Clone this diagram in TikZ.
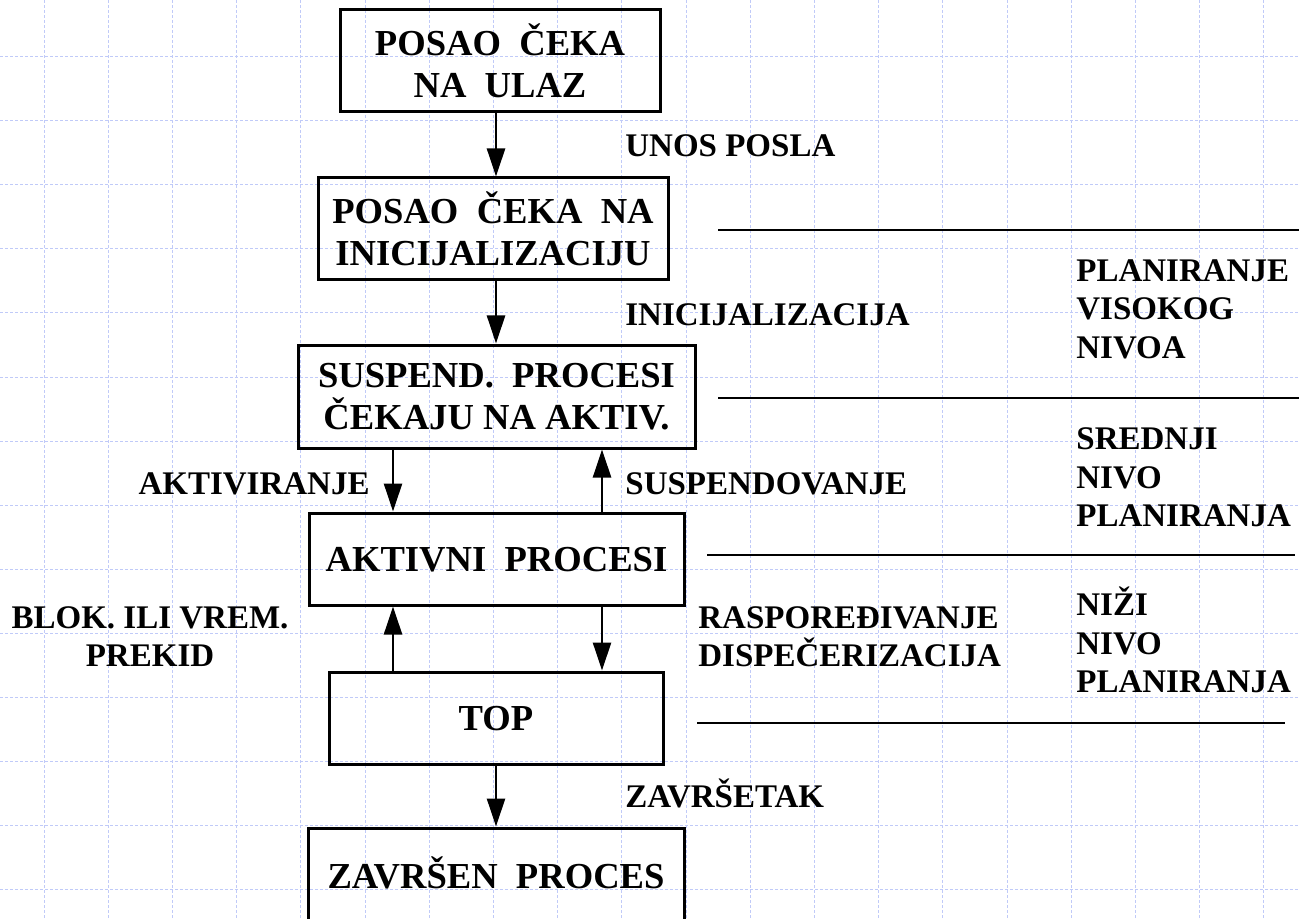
\documentclass[tikz,border=0pt]{standalone}
\usepackage{fontspec}
\setmainfont{Liberation Serif}
\usetikzlibrary{arrows.meta, positioning}

\definecolor{gridblue}{RGB}{192,202,248}

\begin{document}
\begin{tikzpicture}[
    % one unit = one pixel of the sheet, y grows downwards
    x=0.5pt,
    y=-0.5pt,
    >={Triangle[length=14pt, width=9pt]},
    box/.style={draw, line width=1.5pt, align=center, inner sep=0pt,
        font=\fontsize{18.3}{21}\selectfont\bfseries, text depth=0pt},
    lbl/.style={inner sep=0pt, font=\fontsize{16.5}{19.3}\selectfont\bfseries, text depth=0pt},
    flow/.style={->, line width=1.25pt},
    rule/.style={line width=1.4pt},
    gridline/.style={gridblue, line width=0.5pt, dash pattern=on 1.5pt off 1pt}
]
    % --- Sheet and grid ---
    \useasboundingbox (0,0) rectangle (1299,919);
    \foreach \gx in {0,...,19}
        \draw[gridline] ({44+64.2*\gx},0) -- ({44+64.2*\gx},919);
    \foreach \gy in {0,...,13}
        \draw[gridline] (0,{57+64*\gy}) -- (1299,{57+64*\gy});

    % --- States ---
    \node[box, minimum width=160pt, minimum height=51pt] (waitin) at (500,61)
        {POSAO\ \ ČEKA\\NA\ \ ULAZ};
    \node[box, minimum width=175pt, minimum height=51pt] (waitinit) at (493,229)
        {POSAO\ \ ČEKA\ \ NA\\INICIJALIZACIJU};
    \node[box, minimum width=198.5pt, minimum height=51.5pt] (suspended) at (496.5,396.5)
        {SUSPEND.\ \ PROCESI\\ČEKAJU NA AKTIV.};
    \node[box, minimum width=187.5pt, minimum height=46pt] (active) at (496.5,559)
        {AKTIVNI\ \ PROCESI};
    \node[box, minimum width=167pt, minimum height=46pt] (top) at (496,718) {TOP};
    \node[box, minimum width=188pt, minimum height=50pt, text depth=5pt] (done) at (496,878)
        {ZAVRŠEN\ \ PROCES};

    % --- Transitions ---
    \coordinate (spine) at (496,0);
    \coordinate (leftx) at (393,0);
    \coordinate (rightx) at (602,0);
    \draw[flow] (waitin.south -| spine) -- (waitinit.north -| spine);
    \draw[flow] (waitinit.south -| spine) -- (suspended.north -| spine);
    \draw[flow] (suspended.south -| leftx) -- (active.north -| leftx);
    \draw[flow] (active.north -| rightx) -- (suspended.south -| rightx);
    \draw[flow] (top.north -| leftx) -- (active.south -| leftx);
    \draw[flow] (active.south -| rightx) -- (top.north -| rightx);
    \draw[flow] (top.south -| spine) -- (done.north -| spine);

    % --- Transition labels ---
    \node[lbl, anchor=base west] (lblentry) at (625,157) {UNOS POSLA};
    \node[lbl, anchor=base west] (lblinit) at (625,326) {INICIJALIZACIJA};
    \node[lbl, anchor=base east] (lblactivate) at (370,494) {AKTIVIRANJE};
    \node[lbl, anchor=base west] (lblsuspend) at (625,494) {SUSPENDOVANJE};
    \node[lbl, anchor=south, align=center] (lblblock) at (150,667)
        {BLOK. ILI VREM.\\PREKID};
    \node[lbl, anchor=south west, align=left] (lbldispatch) at (698,667)
        {RASPOREĐIVANJE\\DISPEČERIZACIJA};
    \node[lbl, anchor=base west] (lblend) at (625,807) {ZAVRŠETAK};

    % --- Scheduling levels ---
    \draw[rule] (718,230) -- (1299,230);
    \draw[rule] (718,398) -- (1299,398);
    \draw[rule] (707,555) -- (1295,555);
    \draw[rule] (697,723) -- (1285,723);
    \node[lbl, anchor=south west, align=left] (lvlhigh) at (1076,359)
        {PLANIRANJE\\VISOKOG\\NIVOA};
    \node[lbl, anchor=south west, align=left] (lvlmid) at (1076,527)
        {SREDNJI\\NIVO\\PLANIRANJA};
    \node[lbl, anchor=south west, align=left] (lvllow) at (1076,693)
        {NIŽI\\NIVO\\PLANIRANJA};

\end{tikzpicture}
\end{document}
